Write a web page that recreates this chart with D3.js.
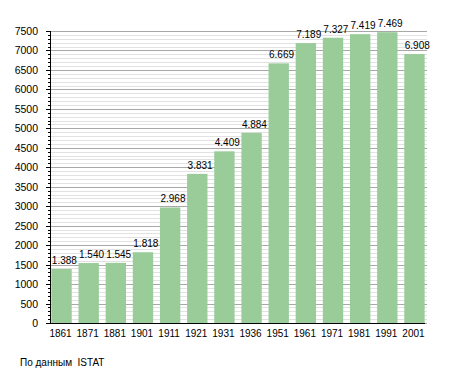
<!DOCTYPE html>
<html>
<head>
<meta charset="utf-8">
<script src="https://cdn.jsdelivr.net/npm/d3@7"></script>
<style>
  body { margin: 0; background: #fff; }
  text { font-family: "Liberation Sans", Arial, sans-serif; font-size: 10px; fill: #000; }
</style>
</head>
<body>
<svg width="455" height="373"></svg>
<script>
var years = ["1861", "1871", "1881", "1901", "1911", "1921", "1931", "1936", "1951", "1961", "1971", "1981", "1991", "2001"];
var population = [1388, 1540, 1545, 1818, 2968, 3831, 4409, 4884, 6669, 7189, 7327, 7419, 7469, 6908];
var yTicks = [0, 500, 1000, 1500, 2000, 2500, 3000, 3500, 4000, 4500, 5000, 5500, 6000, 6500, 7000, 7500];
var source = "По данным  ISTAT";

var svg = d3.select("svg");
var plotLeft = 50, plotRight = 425, plotTop = 31, plotBottom = 323;

var x = d3.scaleBand()
    .domain(years)
    .range([plotLeft, plotRight + 1])
    .paddingInner(0.25)
    .paddingOuter(0.05);

var y = d3.scaleLinear()
    .domain([0, 7500])
    .range([plotBottom, plotTop]);

var minor = d3.range(0, 7501, 100);
var fmt = function(v) { return d3.format(",")(v).replace(/,/g, "."); };

// grid lines, light every 100, darker every 500
svg.append("g")
  .selectAll("line")
  .data(minor)
  .enter().append("line")
    .attr("x1", plotLeft + 1)
    .attr("x2", plotRight + 2)
    .attr("y1", function(d) { return Math.round(y(d)) + 0.5; })
    .attr("y2", function(d) { return Math.round(y(d)) + 0.5; })
    .style("stroke", function(d) { return d % 500 === 0 ? "#a8a8a8" : "#e2e2e2"; })
    .style("stroke-width", 1);

// bars
svg.append("g")
  .selectAll("rect")
  .data(population)
  .enter().append("rect")
    .attr("x", function(d, i) { return x(years[i]); })
    .attr("width", x.bandwidth())
    .attr("y", function(d) { return y(d); })
    .attr("height", function(d) { return plotBottom - y(d); })
    .style("fill", "#99cc99");

// value labels, left aligned on the bar
svg.append("g")
  .selectAll("text")
  .data(population)
  .enter().append("text")
    .attr("x", function(d, i) { return x(years[i]) + 0.5; })
    .attr("y", function(d) { return y(d) - 5; })
    .text(fmt);

// y axis
var yAxis = svg.append("g");
yAxis.selectAll("line")
  .data(minor)
  .enter().append("line")
    .attr("x1", function(d) { return d % 500 === 0 ? plotLeft - 4 : plotLeft - 2; })
    .attr("x2", plotLeft)
    .attr("y1", function(d) { return Math.round(y(d)) + 0.5; })
    .attr("y2", function(d) { return Math.round(y(d)) + 0.5; })
    .style("stroke", "#000");
yAxis.append("line")
    .attr("x1", plotLeft + 0.5).attr("x2", plotLeft + 0.5)
    .attr("y1", y(7500)).attr("y2", plotBottom + 1)
    .style("stroke", "#000");
yAxis.selectAll("text")
  .data(yTicks)
  .enter().append("text")
    .attr("x", 38)
    .attr("y", function(d) { return y(d) + 4; })
    .attr("text-anchor", "end")
    .style("font-size", "10.5px")
    .text(function(d) { return d; });

// x axis
svg.append("line")
    .attr("x1", plotLeft - 4).attr("x2", plotRight)
    .attr("y1", plotBottom + 0.5).attr("y2", plotBottom + 0.5)
    .style("stroke", "#000");
svg.append("g")
  .selectAll("text")
  .data(years)
  .enter().append("text")
    .attr("x", function(d) { return x(d) + x.bandwidth() / 2 - 1; })
    .attr("y", plotBottom + 14)
    .attr("text-anchor", "middle")
    .text(function(d) { return d; });

svg.append("text")
    .attr("x", 20)
    .attr("y", 366)
    .attr("xml:space", "preserve")
    .style("white-space", "pre")
    .text(source);
</script>
</body>
</html>
